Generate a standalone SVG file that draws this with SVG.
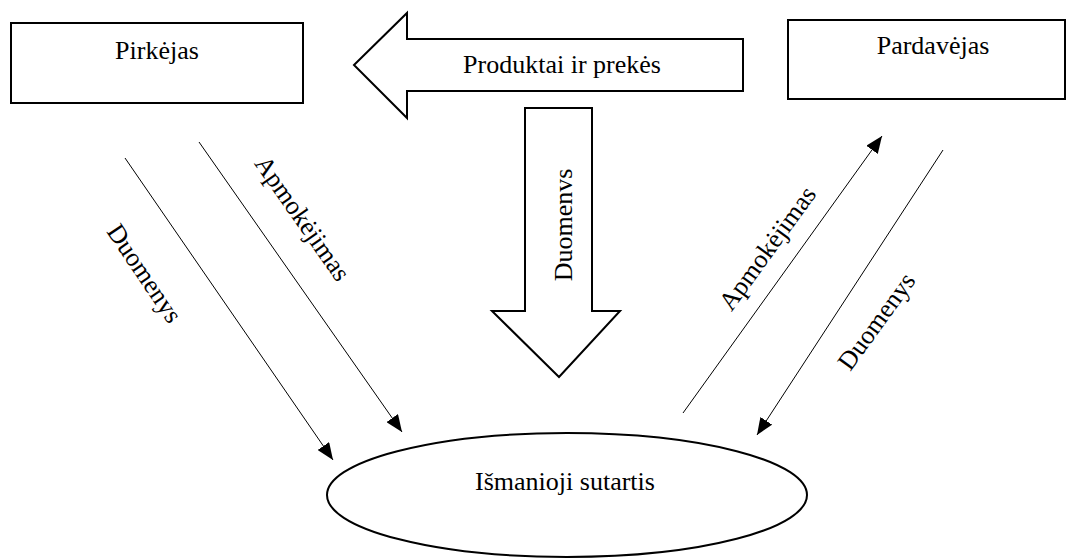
<svg xmlns="http://www.w3.org/2000/svg" width="1067" height="559" viewBox="0 0 1067 559">
<style>
.box{fill:#fff;stroke:#000;stroke-width:2}
.big{fill:#fff;stroke:#000;stroke-width:2;stroke-linejoin:miter}
.t{font-family:"Liberation Serif","Times New Roman",serif;font-size:26px;fill:#000;text-anchor:middle}
.c{stroke:#000;stroke-width:1;fill:none}
</style>
<defs>
<marker id="ah" markerUnits="userSpaceOnUse" markerWidth="18" markerHeight="14" viewBox="0 0 18 14" refX="17" refY="7" orient="auto">
<path d="M0,0 L17,7 L0,14 Z" fill="#000"/>
</marker>
</defs>
<rect width="1067" height="559" fill="#fff"/>
<g id="pirkejas">
<rect class="box" x="11" y="23" width="292" height="80"/>
<text class="t" x="157" y="59">Pirkėjas</text>
</g>
<g id="pardavejas">
<rect class="box" x="788" y="20" width="277" height="79"/>
<text class="t" x="933" y="54">Pardavėjas</text>
</g>
<g id="produktai">
<path class="big" d="M354,65 L407,13 L407,39 L743,39 L743,91 L407,91 L407,118 Z"/>
<text class="t" x="562" y="73">Produktai ir prekės</text>
</g>
<g id="duomenys-arrow">
<path class="big" d="M525,108 L592,108 L592,311 L620,311 L559,377 L492,311 L525,311 Z"/>
<text class="t" transform="translate(572,225) rotate(-90)" x="0" y="0">Duomenvs</text>
</g>
<g id="sutartis">
<ellipse class="box" cx="567" cy="495" rx="240" ry="62"/>
<text class="t" x="565" y="490">Išmanioji sutartis</text>
</g>
<g id="connectors">
<line class="c" x1="125" y1="158" x2="333" y2="460" marker-end="url(#ah)"/>
<line class="c" x1="199" y1="142" x2="402" y2="432" marker-end="url(#ah)"/>
<line class="c" x1="683" y1="413" x2="882" y2="136" marker-end="url(#ah)"/>
<line class="c" x1="943" y1="150" x2="757" y2="435" marker-end="url(#ah)"/>
<text class="t" transform="translate(145,273) rotate(56)" dy="0.35em">Duomenys</text>
<text class="t" transform="translate(303,218) rotate(55)" dy="0.35em">Apmokėjimas</text>
<text class="t" transform="translate(767,248) rotate(-54)" dy="0.35em">Apmokėjimas</text>
<text class="t" transform="translate(876,321) rotate(-54)" dy="0.35em">Duomenys</text>
</g>
</svg>
